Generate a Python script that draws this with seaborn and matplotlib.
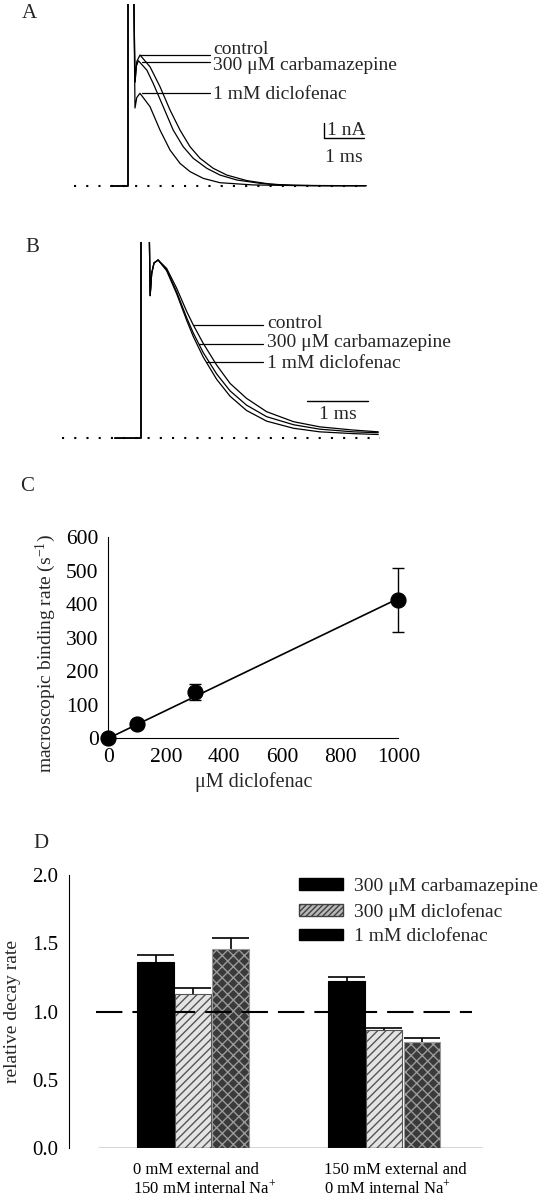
import numpy as np
import pandas as pd
import seaborn as sns
import matplotlib.pyplot as plt
import matplotlib.transforms as mtransforms
from matplotlib.patches import Patch

# ---- panel A: current traces (ms, nA) ----
a_t_control = [-0.43, 0.0, 0.0, 0.14, 0.175, 0.22, 0.30, 0.55, 0.80, 1.05, 1.30, 1.55, 1.80,
               2.13, 2.47, 2.97, 3.55, 4.13, 5.0, 5.95]
a_i_control = [0, 0, 14, 14, 6.93, 8.3, 8.73, 7.95, 6.62, 5.07, 3.73, 2.62, 1.85,
               1.18, 0.73, 0.36, 0.13, 0.04, 0.02, 0.02]
a_t_carba = [-0.43, 0.0, 0.0, 0.14, 0.175, 0.21, 0.26, 0.47, 0.63, 0.88, 1.13, 1.38, 1.63,
             1.97, 2.30, 2.72, 3.30, 3.80, 4.6, 5.95]
a_i_carba = [0, 0, 14, 14, 6.93, 8.0, 8.35, 7.73, 6.84, 5.29, 3.73, 2.62, 1.85,
             1.18, 0.73, 0.40, 0.18, 0.07, 0.03, 0.02]
a_t_diclo = [-0.43, 0.0, 0.0, 0.14, 0.175, 0.22, 0.30, 0.55, 0.80, 1.05, 1.30, 1.55, 1.88,
             2.30, 3.13, 4.2, 5.95]
a_i_diclo = [0, 0, 14, 14, 5.2, 5.9, 6.18, 5.29, 3.73, 2.40, 1.51, 0.96, 0.51,
             0.22, 0.07, 0.03, 0.02]

# ---- panel B: normalised traces (ms, peak = 1) ----
b_t = [-0.43, 0.0, 0.0, 0.13, 0.15, 0.175, 0.213, 0.28, 0.42, 0.585, 0.75, 0.857, 1.02,
       1.24, 1.46, 1.73, 2.06, 2.50, 2.93, 3.48, 3.89]
b_control = [0, 0, 1.3, 1.3, 0.80, 0.925, 0.983, 1.0, 0.953, 0.841, 0.710, 0.635, 0.532,
             0.410, 0.307, 0.223, 0.148, 0.092, 0.063, 0.045, 0.035]
b_carba = [0, 0, 1.3, 1.3, 0.80, 0.925, 0.983, 1.0, 0.945, 0.820, 0.675, 0.590, 0.480,
           0.360, 0.265, 0.185, 0.120, 0.075, 0.050, 0.035, 0.030]
b_diclo = [0, 0, 1.3, 1.3, 0.80, 0.925, 0.983, 1.0, 0.940, 0.810, 0.660, 0.570, 0.455,
           0.330, 0.235, 0.155, 0.095, 0.055, 0.035, 0.025, 0.020]

# ---- panel C ----
conc = [0, 100, 300, 1000]
rate = [0, 42, 139, 413]
rate_err = [0, 10, 24, 95]

# ---- panel D ----
conditions = ["0 mM external and\n150 mM internal Na$^{+}$",
              "150 mM external and\n0 mM internal Na$^{+}$"]
treatments = ["300 μM carbamazepine", "300 μM diclofenac", "1 mM diclofenac"]
decay_cond1 = [1.366, 1.127, 1.459]
decay_cond2 = [1.227, 0.866, 0.780]
err_cond1 = [0.049, 0.044, 0.083]
err_cond2 = [0.029, 0.017, 0.025]

sns.set_style("white")
plt.rcParams['font.family'] = ['Liberation Serif', 'DejaVu Serif']
plt.rcParams['mathtext.fontset'] = 'custom'
plt.rcParams['mathtext.rm'] = 'Liberation Serif'
plt.rcParams['mathtext.it'] = 'Liberation Serif:italic'
plt.rcParams['hatch.linewidth'] = 1.0
plt.rcParams['lines.scale_dashes'] = False

W, H = 542, 1199
fig = plt.figure(figsize=(W / 100, H / 100), dpi=100)


def px_axes(left, top, right, bottom):
    return fig.add_axes([left / W, 1 - bottom / H, (right - left) / W, (bottom - top) / H])


def letter(x, y, s):
    fig.text(x / W, 1 - y / H, s, ha='center', va='center', fontsize=15)


lw_trace = 0.9
dots = (0, (1.5, 7.3))

# Panel A
axA = px_axes(60, 4, 380, 200)
for t, i in [(a_t_control, a_i_control), (a_t_carba, a_i_carba), (a_t_diclo, a_i_diclo)]:
    sns.lineplot(x=t, y=i, estimator=None, sort=False, color='black', lw=lw_trace, ax=axA)
axA.plot([-1.34, 5.95], [0, 0], color='black', lw=1.5, ls=dots)
for y0, t0, y_txt, s in [(8.73, 0.30, 9.13, "control"),
                         (8.27, 0.35, 8.0, "300 μM carbamazepine"),
                         (6.2, 0.35, 6.13, "1 mM diclofenac")]:
    axA.plot([t0, 2.05], [y0, y0], color='black', lw=lw_trace)
    axA.text(2.13, y_txt, s, ha='left', va='center', fontsize=14)
axA.plot([4.9, 4.9, 5.9], [4.2, 3.2, 3.2], color='black', lw=1.0)
axA.text(4.98, 3.73, "1 nA", ha='left', va='center', fontsize=14)
axA.text(5.4, 1.93, "1 ms", ha='center', va='center', fontsize=14)
axA.set_xlim(-1.7, 6.3)
axA.set_ylim(-0.933, 12.133)
axA.axis('off')

# Panel B
axB = px_axes(40, 242, 420, 450)
for trace in [b_control, b_carba, b_diclo]:
    sns.lineplot(x=b_t, y=trace, estimator=None, sort=False, color='black', lw=lw_trace, ax=axB)
axB.plot([-1.3, 3.92], [0, 0], color='black', lw=1.5, ls=dots)
for (t0, y0), y_txt, s in [((0.857, 0.635), 0.646, "control"),
                           ((0.95, 0.528), 0.534, "300 μM carbamazepine"),
                           ((1.07, 0.427), 0.421, "1 mM diclofenac")]:
    axB.plot([t0, 2.0], [y0, y0], color='black', lw=lw_trace)
    axB.text(2.07, y_txt, s, ha='left', va='center', fontsize=14)
axB.plot([2.72, 3.72], [0.208, 0.208], color='black', lw=1.0)
axB.text(3.22, 0.135, "1 ms", ha='center', va='center', fontsize=14)
axB.set_xlim(-1.656, 4.574)
axB.set_ylim(-0.067, 1.101)
axB.axis('off')

# Panel C
axC = px_axes(108.3, 537.3, 398.3, 738.3)
conc_a = np.array(conc, dtype=float)
rate_a = np.array(rate, dtype=float)
slope = (conc_a * rate_a).sum() / (conc_a ** 2).sum()
fit_x = np.array([0, 1000])
sns.lineplot(x=fit_x, y=slope * fit_x, color='black', lw=1.2, ax=axC)
axC.errorbar(conc, rate, yerr=rate_err, fmt='none', ecolor='black', elinewidth=1.0,
             capsize=4.5, capthick=1.0, clip_on=False, zorder=3)
sns.scatterplot(x=conc, y=rate, s=117, color='black', edgecolor='black', ax=axC,
                clip_on=False, zorder=4)
axC.set_xlim(0, 1000)
axC.set_ylim(0, 600)
axC.set_xticks(range(0, 1001, 200))
axC.set_yticks(range(0, 601, 100))
for side in ['top', 'right']:
    axC.spines[side].set_visible(False)
for side in ['left', 'bottom']:
    axC.spines[side].set_linewidth(0.8)
    axC.spines[side].set_color('black')
axC.tick_params(direction='in', length=4, width=0.8, labelsize=15.5, pad=7, colors='black')
axC.set_ylabel("macroscopic binding rate (s$^{-1}$)", fontsize=14)
axC.yaxis.set_label_coords(-0.175, 0.424)
axC.set_xlabel("μM diclofenac", fontsize=14.5)
axC.xaxis.set_label_coords(0.5, -0.17)

# Panel D
rows = []
for cond, vals in zip(conditions, [decay_cond1, decay_cond2]):
    for trt, v in zip(treatments, vals):
        rows.append({"condition": cond, "treatment": trt, "rate": v})
df = pd.DataFrame(rows)

axD = px_axes(69.3, 875, 500, 1148.3)
sns.barplot(data=df, x="condition", y="rate", hue="treatment", order=conditions,
            hue_order=treatments, palette=['black', '#e4e4e4', '#3a3a3a'],
            width=0.59, gap=0.03, errorbar=None, legend=False, ax=axD, zorder=2)
styles = [('black', 'black', ''), ('#e4e4e4', '#555555', '////'), ('#3a3a3a', '#9a9a9a', 'xxx')]
errs = [[err_cond1[k], err_cond2[k]] for k in range(3)]
for cont, (fc, ec, hatch), err in zip(axD.containers, styles, errs):
    for bar, e in zip(cont, err):
        bar.set_facecolor(fc)
        bar.set_edgecolor(ec)
        bar.set_hatch(hatch)
        bar.set_linewidth(0.8)
        x0, w, top = bar.get_x(), bar.get_width(), bar.get_height()
        axD.vlines(x0 + w / 2, top, top + e, color='black', lw=1.2, zorder=3)
        axD.hlines(top + e, x0, x0 + w, color='black', lw=1.2, zorder=3)
axD.hlines(1.0, -0.51, 1.46, color='black', lw=1.5, linestyles=[(0, (19, 7.2))], zorder=5)
axD.hlines(0, -0.497, 1.514, color='#333333', lw=1.0, zorder=4)
axD.set_xlim(-0.648, 1.606)
axD.set_ylim(0, 2.0)
axD.set_yticks([0, 0.5, 1.0, 1.5, 2.0])
axD.set_yticklabels(["0.0", "0.5", "1.0", "1.5", "2.0"])
for side in ['top', 'right', 'bottom']:
    axD.spines[side].set_visible(False)
axD.spines['left'].set_linewidth(0.8)
axD.spines['left'].set_color('black')
axD.tick_params(axis='y', direction='in', length=3, width=0.8, labelsize=15, pad=8, colors='black')
axD.tick_params(axis='x', length=0, labelsize=12, pad=10, colors='black')
shift = mtransforms.ScaledTranslation(-0.6, 0, fig.dpi_scale_trans)
for lab in axD.get_xticklabels():
    lab.set_horizontalalignment('left')
    lab.set_multialignment('left')
    lab.set_linespacing(1.05)
    lab.set_transform(lab.get_transform() + shift)
axD.set_xlabel("")
axD.set_ylabel("relative decay rate", fontsize=14, labelpad=8)

handles = [Patch(facecolor='black', edgecolor='black'),
           Patch(facecolor='#b8b8b8', edgecolor='#404040', hatch='//////'),
           Patch(facecolor='black', edgecolor='black')]
axD.legend(handles, treatments, loc='upper left', bbox_to_anchor=(299 / W, 1 - 878 / H),
           bbox_transform=fig.transFigure, frameon=False, fontsize=14, handlelength=2.25,
           handleheight=0.55, handletextpad=0.6, labelspacing=0.4, borderpad=0,
           borderaxespad=0)

letter(29, 14, "A")
letter(32, 247, "B")
letter(27, 487, "C")
letter(41, 843, "D")

fig.savefig("out.png", dpi=100)
